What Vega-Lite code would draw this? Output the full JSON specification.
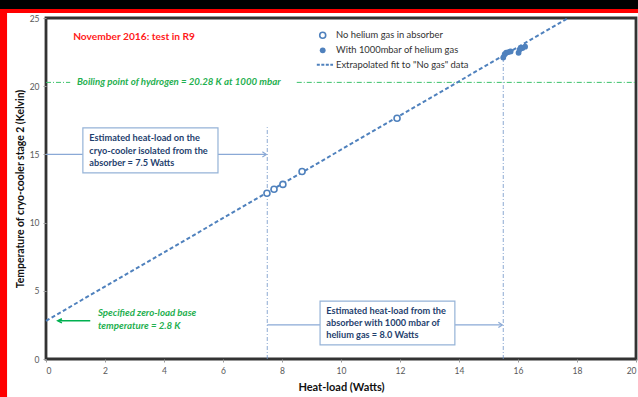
{
  "$schema": "https://vega.github.io/schema/vega-lite/v6.json",
  "width": 590,
  "height": 341,
  "autosize": {"type": "none"},
  "padding": {"left": 46, "top": 18, "right": 2, "bottom": 38},
  "background": "white",
  "config": {
    "font": "Lato",
    "view": {"stroke": "#333333", "strokeWidth": 2.8},
    "axis": {
      "grid": false,
      "domain": false,
      "labelColor": "#595959",
      "labelFontSize": 8.5,
      "titleFontWeight": "bold",
      "titleColor": "#111111",
      "tickColor": "#9a9a9a",
      "tickSize": 3
    }
  },
  "layer": [
    {
      "data": {"values": [{"x": -1.7, "x2": 20.3, "y": 25.63, "y2": 26.5}]},
      "mark": {"type": "rect", "color": "black", "clip": false},
      "encoding": {
        "x": {"field": "x", "type": "quantitative", "scale": {"domain": [0, 20], "nice": false}, "axis": {"values": [0, 2, 4, 6, 8, 10, 12, 14, 16, 18, 20], "title": "Heat-load (Watts)", "titleFontSize": 11, "labelPadding": 4, "titlePadding": 7}},
        "x2": {"field": "x2"},
        "y": {"field": "y", "type": "quantitative", "scale": {"domain": [0, 25], "nice": false}, "axis": {"values": [0, 5, 10, 15, 20, 25], "title": "Temperature of cryo-cooler stage 2 (Kelvin)", "titleFontSize": 10.4, "labelPadding": 4, "titlePadding": 4}},
        "y2": {"field": "y2"}
      }
    },
    {
      "data": {"values": [
        {"x": -1.7, "x2": 20.3, "y": 25.37, "y2": 25.66},
        {"x": -1.7, "x2": -1.32, "y": -3, "y2": 25.66}
      ]},
      "mark": {"type": "rect", "color": "#ff0000", "clip": false},
      "encoding": {
        "x": {"field": "x", "type": "quantitative"},
        "x2": {"field": "x2"},
        "y": {"field": "y", "type": "quantitative"},
        "y2": {"field": "y2"}
      }
    },
    {
      "data": {"values": [
        {"x": 0, "x2": 0.82, "y": 20.28},
        {"x": 8.5, "x2": 20, "y": 20.28}
      ]},
      "mark": {"type": "rule", "color": "#3cc26a", "strokeWidth": 1, "strokeDash": [5, 2, 1, 2]},
      "encoding": {
        "x": {"field": "x", "type": "quantitative"},
        "x2": {"field": "x2"},
        "y": {"field": "y", "type": "quantitative"}
      }
    },
    {
      "data": {"values": [
        {"x": 7.5, "y": 0, "y2": 17.0},
        {"x": 15.5, "y": 0, "y2": 22.1}
      ]},
      "mark": {"type": "rule", "color": "#6f94c8", "strokeWidth": 0.8, "strokeDash": [4, 2, 1, 2]},
      "encoding": {
        "x": {"field": "x", "type": "quantitative"},
        "y": {"field": "y", "type": "quantitative"},
        "y2": {"field": "y2"}
      }
    },
    {
      "data": {"values": [
        {"x": 0, "x2": 1.25, "y": 15},
        {"x": 5.83, "x2": 7.45, "y": 15},
        {"x": 7.5, "x2": 9.29, "y": 2.5},
        {"x": 13.86, "x2": 15.45, "y": 2.5}
      ]},
      "mark": {"type": "rule", "color": "#8aa9d6", "strokeWidth": 1.2},
      "encoding": {
        "x": {"field": "x", "type": "quantitative"},
        "x2": {"field": "x2"},
        "y": {"field": "y", "type": "quantitative"}
      }
    },
    {
      "data": {"values": [{"x": 7.47, "y": 15}, {"x": 15.47, "y": 2.5}]},
      "mark": {"type": "point", "shape": "M-2,-1.3L0,0L-2,1.3", "filled": false, "color": "#8aa9d6", "strokeWidth": 1.2, "size": 16, "opacity": 1},
      "encoding": {
        "x": {"field": "x", "type": "quantitative"},
        "y": {"field": "y", "type": "quantitative"}
      }
    },
    {
      "data": {"values": [{"x": 0, "y": 2.8}, {"x": 17.7, "y": 25}]},
      "mark": {"type": "line", "color": "#4f81bd", "strokeWidth": 2, "strokeDash": [4, 2.5]},
      "encoding": {
        "x": {"field": "x", "type": "quantitative"},
        "y": {"field": "y", "type": "quantitative"}
      }
    },
    {
      "data": {"values": [
        {"x": 1.25, "x2": 5.83, "y": 16.94, "y2": 13.64},
        {"x": 9.29, "x2": 13.86, "y": 4.25, "y2": 1.03}
      ]},
      "mark": {"type": "rect", "fill": "white", "stroke": "#95b3d7", "strokeWidth": 1.2},
      "encoding": {
        "x": {"field": "x", "type": "quantitative"},
        "x2": {"field": "x2"},
        "y": {"field": "y", "type": "quantitative"},
        "y2": {"field": "y2"}
      }
    },
    {
      "data": {"values": [
        {"x": 1.47, "y": 16.2, "t": "Estimated heat-load on the"},
        {"x": 1.47, "y": 15.27, "t": "cryo-cooler isolated from the"},
        {"x": 1.47, "y": 14.37, "t": "absorber = 7.5 Watts"},
        {"x": 9.5, "y": 3.52, "t": "Estimated heat-load from the"},
        {"x": 9.5, "y": 2.64, "t": "absorber with 1000 mbar of"},
        {"x": 9.5, "y": 1.76, "t": "helium gas = 8.0 Watts"}
      ]},
      "mark": {"type": "text", "align": "left", "baseline": "middle", "color": "#1f3f6e", "fontSize": 9.2, "fontWeight": "bold"},
      "encoding": {
        "x": {"field": "x", "type": "quantitative"},
        "y": {"field": "y", "type": "quantitative"},
        "text": {"field": "t"}
      }
    },
    {
      "data": {"values": [{"x": 0.42, "x2": 1.5, "y": 2.8}]},
      "mark": {"type": "rule", "color": "#00b050", "strokeWidth": 1.5},
      "encoding": {
        "x": {"field": "x", "type": "quantitative"},
        "x2": {"field": "x2"},
        "y": {"field": "y", "type": "quantitative"}
      }
    },
    {
      "data": {"values": [{"x": 0.4, "y": 2.8}]},
      "mark": {"type": "point", "shape": "M2.6,-1.3L0,0L2.6,1.3", "filled": false, "color": "#00b050", "strokeWidth": 1.5, "size": 10, "opacity": 1},
      "encoding": {
        "x": {"field": "x", "type": "quantitative"},
        "y": {"field": "y", "type": "quantitative"}
      }
    },
    {
      "data": {"values": [
        {"x": 1.05, "y": 20.28, "t": "Boiling point of hydrogen = 20.28 K at 1000 mbar"},
        {"x": 1.76, "y": 3.37, "t": "Specified zero-load base"},
        {"x": 1.76, "y": 2.42, "t": "temperature = 2.8 K"}
      ]},
      "mark": {"type": "text", "align": "left", "baseline": "middle", "color": "#1fb050", "fontSize": 9.7, "fontWeight": "bold", "fontStyle": "italic"},
      "encoding": {
        "x": {"field": "x", "type": "quantitative"},
        "y": {"field": "y", "type": "quantitative"},
        "text": {"field": "t"}
      }
    },
    {
      "data": {"values": [{"x": 0.92, "y": 23.6, "t": "November 2016: test in R9"}]},
      "mark": {"type": "text", "align": "left", "baseline": "middle", "color": "#ff1a1a", "fontSize": 10.2, "fontWeight": "bold"},
      "encoding": {
        "x": {"field": "x", "type": "quantitative"},
        "y": {"field": "y", "type": "quantitative"},
        "text": {"field": "t"}
      }
    },
    {
      "data": {"values": [{"x": 9.18, "x2": 9.73, "y": 21.58}]},
      "mark": {"type": "rule", "color": "#4f81bd", "strokeWidth": 2, "strokeDash": [3, 1.5]},
      "encoding": {
        "x": {"field": "x", "type": "quantitative"},
        "x2": {"field": "x2"},
        "y": {"field": "y", "type": "quantitative"}
      }
    },
    {
      "data": {"values": [
        {"x": 9.83, "y": 23.73, "t": "No helium gas in absorber"},
        {"x": 9.83, "y": 22.63, "t": "With 1000mbar of helium gas"},
        {"x": 9.83, "y": 21.58, "t": "Extrapolated fit to \"No gas\" data"}
      ]},
      "mark": {"type": "text", "align": "left", "baseline": "middle", "color": "#333333", "fontSize": 9.4},
      "encoding": {
        "x": {"field": "x", "type": "quantitative"},
        "y": {"field": "y", "type": "quantitative"},
        "text": {"field": "t"}
      }
    },
    {
      "data": {"values": [
        {"x": 7.49, "y": 12.15},
        {"x": 7.73, "y": 12.45},
        {"x": 8.03, "y": 12.8},
        {"x": 8.68, "y": 13.75},
        {"x": 11.9, "y": 17.65},
        {"x": 9.38, "y": 23.73}
      ]},
      "mark": {"type": "point", "filled": false, "fill": "white", "color": "#4f81bd", "strokeWidth": 1.6, "size": 36, "opacity": 1},
      "encoding": {
        "x": {"field": "x", "type": "quantitative"},
        "y": {"field": "y", "type": "quantitative"}
      }
    },
    {
      "data": {"values": [
        {"x": 15.5, "y": 22.1},
        {"x": 15.55, "y": 22.35},
        {"x": 15.6, "y": 22.45},
        {"x": 15.68, "y": 22.5},
        {"x": 15.75, "y": 22.55},
        {"x": 16.02, "y": 22.45},
        {"x": 16.06, "y": 22.7},
        {"x": 16.15, "y": 22.8},
        {"x": 16.24, "y": 22.9},
        {"x": 9.38, "y": 22.63}
      ]},
      "mark": {"type": "point", "filled": true, "color": "#4f81bd", "size": 34, "opacity": 1},
      "encoding": {
        "x": {"field": "x", "type": "quantitative"},
        "y": {"field": "y", "type": "quantitative"}
      }
    }
  ]
}
